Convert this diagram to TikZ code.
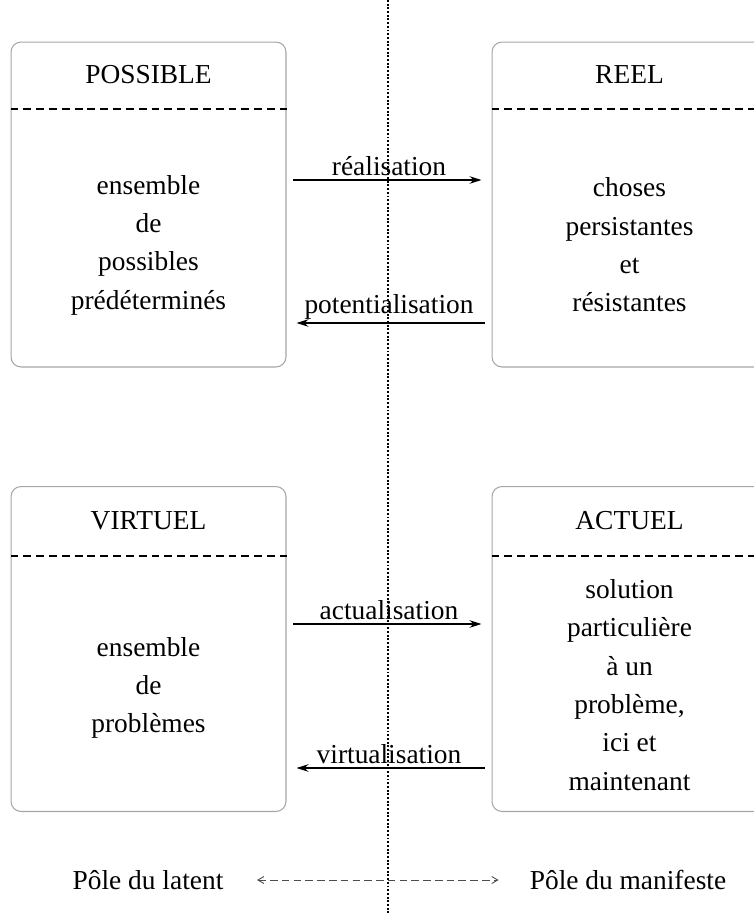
\documentclass[tikz,border=0pt]{standalone}
\usepackage{fontspec}
\setmainfont{Liberation Serif}
\usetikzlibrary{arrows.meta,positioning}

\begin{document}
\begin{tikzpicture}[x=0.02cm,y=-0.02cm,
    box/.style={draw=gray!70,line width=0.6pt,rounded corners=0.2cm,
                minimum width=5.5cm,minimum height=6.5cm},
    title/.style={font=\fontsize{15.6}{18}\selectfont},
    body/.style={align=center,font=\fontsize{15.6}{21.8}\selectfont},
    lbl/.style={font=\fontsize{15.6}{18}\selectfont,inner sep=2pt},
    sep/.style={line width=0.6pt,dash pattern=on 4.5pt off 2.8pt},
    flow/.style={-{Stealth[length=2.4mm,width=1.5mm]},line width=0.6pt,
                 shorten <=0.14cm,shorten >=0.2cm},
    pole/.style={{Straight Barb[length=1.2mm,width=1.4mm]}-{Straight Barb[length=1.2mm,width=1.4mm]},
                 draw=black!70,line width=0.5pt,dash pattern=on 4.3pt off 2.4pt,
                 shorten <=0.55cm,shorten >=0.5cm},
    axis/.style={line width=0.7pt,dash pattern=on 1.1pt off 1pt}
  ]
  % ------- frame -------
  \useasboundingbox (0,0) rectangle (754,914);
  \clip (0,0) rectangle (754,914);

  % ------- middle axis -------
  \coordinate (axtop) at (388,0);
  \coordinate (axbot) at (388,914);
  \draw[axis] (axtop) -- (axbot);

  % ------- boxes -------
  \node[box] (posbox) at (148.5,204.5) {};
  \node[box] (reelbox) at (629.5,204.5) {};
  \node[box] (virbox) at (148.5,649) {};
  \node[box] (actbox) at (629.5,649) {};

  % ------- titles and dividers -------
  \node[title] (postitle) at (148.5,75) {POSSIBLE};
  \node[title] (reeltitle) at (629.5,75) {REEL};
  \node[title] (virtitle) at (148.5,521) {VIRTUEL};
  \node[title] (acttitle) at (629.5,521) {ACTUEL};
  \draw[sep] (posbox.west |- 0,109) -- (posbox.east |- 0,109);
  \draw[sep] (reelbox.west |- 0,109) -- (reelbox.east |- 0,109);
  \draw[sep] (virbox.west |- 0,556) -- (virbox.east |- 0,556);
  \draw[sep] (actbox.west |- 0,556) -- (actbox.east |- 0,556);

  % ------- contents -------
  \node[body] (posbody) at (148.5,245) {ensemble\\de\\possibles\\prédéterminés};
  \node[body] (reelbody) at (629.5,245) {choses\\persistantes\\et\\résistantes};
  \node[body] (virbody) at (148.5,688) {ensemble\\de\\problèmes};
  \node[body] (actbody) at (629.5,685) {solution\\particulière\\à un\\problème,\\ici et\\maintenant};

  % ------- transitions -------
  \draw[flow] (posbox.east |- 0,180) -- node[above,lbl] {réalisation} (reelbox.west |- 0,180);
  \draw[flow] (reelbox.west |- 0,323) -- node[above,lbl] {potentialisation} (posbox.east |- 0,323);
  \draw[flow] (virbox.east |- 0,624) -- node[above,lbl] {actualisation} (actbox.west |- 0,624);
  \draw[flow] (actbox.west |- 0,768) -- node[above,lbl] {virtualisation} (virbox.east |- 0,768);

  % ------- poles -------
  \node[title] (latent) at (148,880) {Pôle du latent};
  \node[title] (manifeste) at (628,880) {Pôle du manifeste};
  \draw[pole] (latent) -- (manifeste);
\end{tikzpicture}
\end{document}
